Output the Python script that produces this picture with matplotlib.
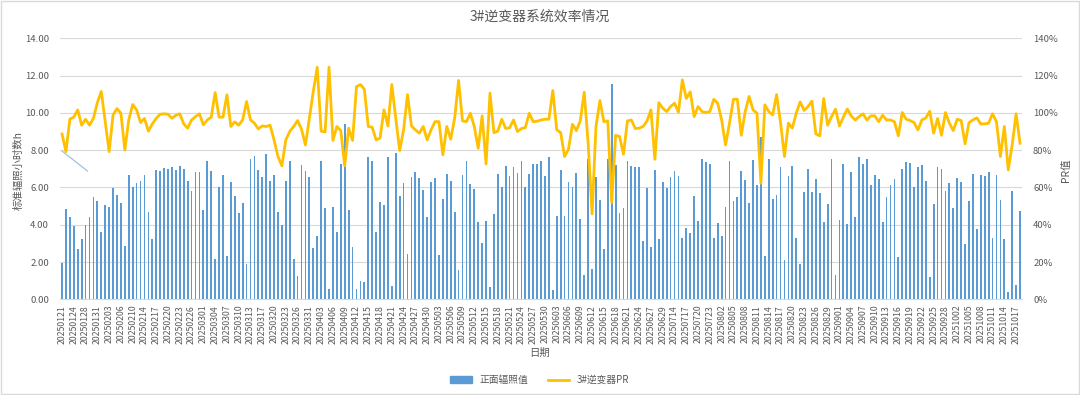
import matplotlib
matplotlib.use("Agg")
import matplotlib.pyplot as plt
from matplotlib.patches import Rectangle, Patch
from matplotlib.lines import Line2D
from matplotlib.ticker import FuncFormatter
import pandas as pd

plt.rcParams['font.family'] = ['Noto Sans CJK SC', 'DejaVu Sans']

# dates shown on the axis (every third category)
tick_dates = [
    '20250121', '20250124', '20250128', '20250131', '20250203', '20250206', '20250210', '20250214',
    '20250217', '20250220', '20250223', '20250226', '20250301', '20250304', '20250307', '20250310',
    '20250313', '20250317', '20250320', '20250323', '20250326', '20250331', '20250403', '20250406',
    '20250409', '20250412', '20250415', '20250418', '20250421', '20250424', '20250427', '20250430',
    '20250503', '20250506', '20250509', '20250512', '20250515', '20250518', '20250521', '20250524',
    '20250527', '20250530', '20250603', '20250606', '20250609', '20250612', '20250615', '20250618',
    '20250621', '20250624', '20250627', '20250629', '20250714', '20250717', '20250720', '20250723',
    '20250802', '20250805', '20250808', '20250811', '20250814', '20250817', '20250820', '20250823',
    '20250826', '20250829', '20250901', '20250904', '20250907', '20250910', '20250913', '20250916',
    '20250919', '20250922', '20250925', '20250928', '20251002', '20251005', '20251008', '20251011',
    '20251014', '20251017',
]
last_date = '20251018'

# 正面辐照值 (h)
irradiance = [
    1.93, 4.83, 4.44, 3.94, 2.68, 3.22, 3.97, 4.40, 5.47, 5.26,
    3.61, 5.04, 4.94, 5.97, 5.58, 5.15, 2.86, 6.69, 6.05, 6.26,
    6.37, 6.69, 4.69, 3.26, 6.94, 6.87, 7.05, 6.98, 7.08, 6.94,
    7.16, 6.98, 6.37, 5.83, 6.85, 6.85, 4.79, 7.44, 6.87, 2.18,
    6.01, 6.65, 2.33, 6.30, 5.53, 4.65, 5.19, 1.88, 7.53, 7.67,
    6.91, 6.58, 7.80, 6.37, 6.69, 4.69, 3.97, 6.37, 7.41, 2.15,
    1.25, 7.19, 6.89, 6.57, 2.74, 3.38, 7.41, 4.90, 0.57, 4.96,
    3.61, 7.26, 9.41, 4.78, 2.81, 0.57, 0.98, 0.93, 7.62, 7.42,
    3.60, 5.22, 5.06, 7.66, 0.72, 7.84, 5.56, 6.23, 2.42, 6.55,
    6.83, 6.51, 5.85, 4.42, 6.30, 6.49, 2.40, 5.37, 6.71, 6.33,
    4.70, 1.56, 6.65, 7.42, 6.17, 5.89, 4.17, 3.04, 4.20, 0.68,
    4.58, 6.71, 6.01, 7.16, 6.62, 7.12, 6.80, 7.41, 6.05, 6.71,
    7.26, 7.26, 7.44, 6.62, 7.62, 0.50, 4.49, 6.91, 4.49, 6.30,
    6.05, 6.80, 4.29, 1.29, 7.55, 1.63, 6.58, 5.31, 2.72, 7.55,
    11.56, 7.19, 4.65, 4.90, 7.44, 7.16, 7.07, 7.07, 3.15, 5.99,
    2.81, 6.94, 3.26, 6.30, 5.99, 6.58, 6.89, 6.62, 3.31, 3.83,
    3.56, 5.55, 4.20, 7.53, 7.37, 7.26, 3.29, 4.11, 3.40, 4.94,
    7.42, 5.26, 5.47, 6.87, 6.40, 5.19, 7.48, 6.12, 8.73, 2.33,
    7.55, 5.37, 5.60, 7.10, 2.11, 6.62, 7.16, 3.29, 1.88, 5.74,
    6.98, 5.74, 6.46, 5.72, 4.15, 5.12, 7.51, 1.29, 4.26, 7.26,
    4.04, 6.82, 4.40, 7.62, 7.26, 7.51, 6.12, 6.69, 6.44, 4.15,
    5.51, 6.15, 6.44, 2.29, 6.98, 7.39, 7.30, 6.03, 7.08, 7.21,
    6.33, 1.20, 5.10, 7.08, 6.98, 5.83, 6.23, 4.90, 6.51, 6.28,
    2.97, 5.26, 6.73, 3.76, 6.69, 6.62, 6.82, 3.29, 6.69, 5.30,
    3.24, 0.39, 5.83, 0.75, 4.74,
]

# 3#逆变器PR (%)
pr = [
    88.7, 79.2, 96.6, 97.7, 101.6, 93.4, 96.6, 93.4, 97.1, 105.5,
    111.5, 95.3, 79.2, 98.9, 102.3, 99.8, 80.1, 96.2, 104.5, 101.6,
    94.8, 97.0, 90.2, 94.1, 97.1, 99.3, 99.5, 99.3, 97.1, 98.7,
    99.5, 94.1, 91.8, 96.2, 98.0, 99.5, 93.6, 96.2, 97.7, 110.9,
    97.7, 97.7, 109.7, 92.7, 95.2, 93.4, 96.2, 106.1, 96.2, 94.5,
    91.4, 93.0, 92.7, 93.4, 85.5, 76.6, 71.6, 85.5, 90.0, 92.7,
    95.9, 91.2, 82.8, 97.1, 111.5, 124.5, 90.2, 89.8, 124.5, 85.2,
    92.7, 90.5, 71.6, 91.8, 85.2, 114.1, 115.2, 112.7, 92.7, 92.3,
    85.5, 86.5, 101.6, 93.0, 115.2, 97.1, 79.8, 90.9, 109.8, 93.0,
    90.9, 89.1, 92.7, 85.5, 90.9, 95.3, 95.3, 77.5, 92.7, 85.9,
    97.1, 117.4, 95.7, 95.3, 99.8, 92.7, 81.0, 98.4, 72.6, 110.6,
    89.4, 90.2, 96.6, 91.6, 92.0, 96.2, 90.0, 91.6, 92.1, 99.8,
    95.3, 95.5, 96.2, 96.6, 96.6, 112.0, 90.9, 89.4, 76.6, 80.5,
    93.9, 90.5, 95.7, 111.1, 83.7, 45.8, 92.7, 106.6, 95.3, 95.7,
    51.9, 88.0, 87.3, 77.8, 95.7, 96.2, 91.6, 91.8, 92.7, 95.7,
    101.6, 75.1, 105.5, 102.5, 100.7, 103.4, 105.2, 100.5, 117.7, 107.7,
    111.3, 98.0, 103.4, 100.7, 100.2, 100.7, 107.3, 105.2, 96.2, 82.8,
    94.5, 107.3, 107.3, 88.0, 100.7, 108.8, 101.6, 99.8, 62.3, 104.3,
    100.7, 98.9, 109.8, 94.8, 76.6, 94.5, 91.8, 99.8, 105.9, 101.3,
    103.4, 106.3, 88.7, 87.7, 107.7, 93.4, 98.0, 102.0, 93.0, 97.7,
    102.1, 98.4, 96.2, 98.0, 99.5, 96.2, 98.4, 98.4, 95.3, 98.7,
    96.2, 96.2, 95.3, 87.7, 100.2, 96.6, 95.9, 94.8, 90.9, 96.2,
    97.3, 100.9, 89.1, 97.0, 88.0, 100.2, 94.5, 90.5, 96.6, 95.9,
    83.4, 94.8, 96.2, 97.3, 94.1, 94.1, 94.5, 99.5, 95.2, 76.6,
    92.7, 69.4, 82.8, 99.5, 83.7,
]

# short stray segment visible in the original chart
stray_x = [0, 6.5]
stray_y = [7.95, 6.88]

# full category list: labelled date + two filler days after it
dates = []
for d in tick_dates:
    t = pd.Timestamp(d)
    dates += [(t + pd.Timedelta(days=k)).strftime('%Y%m%d') for k in range(3)]
dates = dates[:len(tick_dates) * 3 - 2] + [last_date]
dates = dates[:len(irradiance)]

x = list(range(len(dates)))
grey = '#595959'

fig = plt.figure(figsize=(10.8, 3.95), dpi=100)
ax = fig.add_axes([0.0556, 0.2423, 0.8907, 0.6607])
ax2 = ax.twinx()

ax.bar(x, irradiance, width=0.45, color='#5B9BD5', zorder=2)
ax.plot(stray_x, stray_y, color='#9DC3E6', lw=0.9, zorder=3)
ax2.plot(x, pr, color='#FFC000', lw=2.0, zorder=3)

ax.set_xlim(-0.5, len(dates) - 0.5)
ax.set_ylim(0, 14)
ax.set_yticks([0, 2, 4, 6, 8, 10, 12, 14])
ax.yaxis.set_major_formatter(FuncFormatter(lambda v, p: '%.2f' % v))
ax2.set_ylim(0, 140)
ax2.set_yticks([0, 20, 40, 60, 80, 100, 120, 140])
ax2.yaxis.set_major_formatter(FuncFormatter(lambda v, p: '%d%%' % v))

ax.set_xticks(x[::3])
ax.set_xticklabels(dates[::3], rotation=90, fontsize=6.3, color=grey)

ax.yaxis.grid(True, color='#D9D9D9', lw=0.8)
ax.set_axisbelow(True)
for a in (ax, ax2):
    for s in a.spines.values():
        s.set_visible(False)
    a.tick_params(length=0, labelsize=6.8, labelcolor=grey)
ax.spines['bottom'].set_visible(True)
ax.spines['bottom'].set_color('#D9D9D9')
ax.tick_params(axis='x', pad=4, labelsize=6.3)
ax.tick_params(axis='y', pad=8)
ax2.tick_params(axis='y', pad=8)

fig.text(0.5, 1 - 17 / 395, '3#逆变器系统效率情况', ha='center', va='center',
         fontsize=10, color=grey)
fig.text(18 / 1080, 1 - 170 / 395, '标准辐照小时数h', ha='center', va='center',
         rotation=90, fontsize=7.5, color=grey)
fig.text(1066 / 1080, 1 - 170 / 395, 'PR值', ha='center', va='center',
         rotation=90, fontsize=7.5, color=grey)
fig.text(540 / 1080, 1 - 353 / 395, '日期', ha='center', va='center',
         fontsize=7.5, color=grey)

handles = [Patch(color='#5B9BD5'), Line2D([0], [0], color='#FFC000', lw=2.0)]
fig.legend(handles, ['正面辐照值', '3#逆变器PR'], loc='center', ncol=2,
           bbox_to_anchor=(0.5, 1 - 380 / 395), frameon=False, fontsize=7,
           labelcolor=grey, handlelength=2.2, columnspacing=2.0,
           handleheight=0.7)

fig.patches.append(Rectangle((0.001, 0.002), 0.998, 0.996, transform=fig.transFigure,
                             fill=False, ec='#D9D9D9', lw=1.0))

fig.savefig('out.png', dpi=100)
